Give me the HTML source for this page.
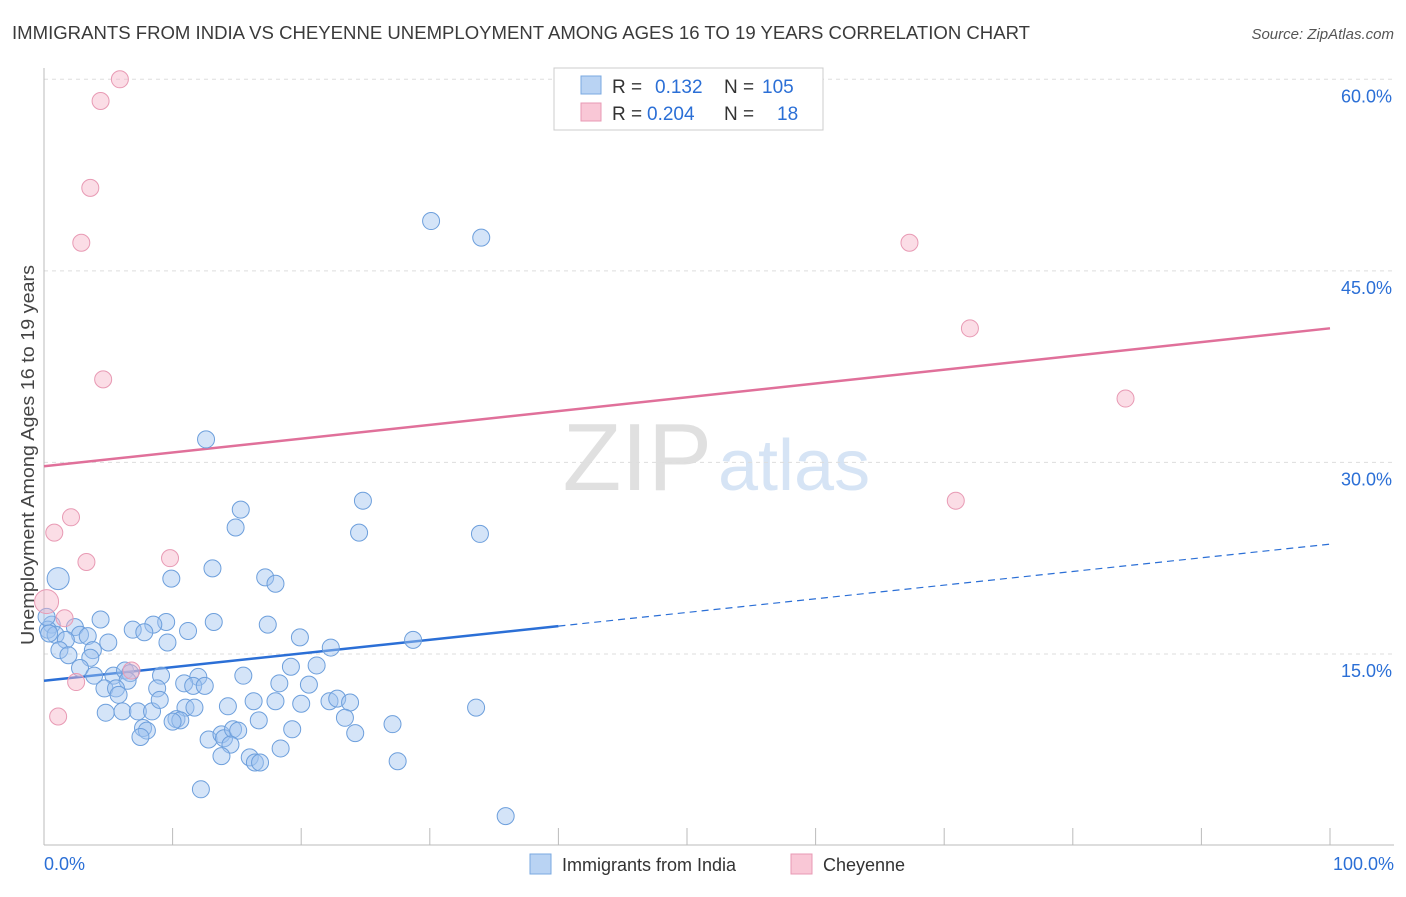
<!DOCTYPE html>
<html><head><meta charset="utf-8"><style>
body{margin:0;background:#fff;font-family:"Liberation Sans",sans-serif;}
svg text{font-family:"Liberation Sans",sans-serif;}
</style></head><body>
<svg id="chart" width="1406" height="892" xmlns="http://www.w3.org/2000/svg">
<text x="12" y="39" font-size="18" fill="#3a3a3a" textLength="1018" lengthAdjust="spacingAndGlyphs">IMMIGRANTS FROM INDIA VS CHEYENNE UNEMPLOYMENT AMONG AGES 16 TO 19 YEARS CORRELATION CHART</text>
<text x="1394" y="39" font-size="15" fill="#555" text-anchor="end" font-style="italic">Source: ZipAtlas.com</text>
<text x="712" y="490" font-size="96" text-anchor="end" fill="#e0e0e0" font-family="Liberation Serif">ZIP</text>
<text x="718" y="490" font-size="72" fill="#d6e4f5">atlas</text>
<text transform="translate(34,455) rotate(-90)" text-anchor="middle" font-size="18" fill="#444" textLength="380" lengthAdjust="spacingAndGlyphs">Unemployment Among Ages 16 to 19 years</text>
<g id="grid"></g><g id="ticks"></g><g id="lines"></g><g id="pts"></g>
<g>
<rect x="554" y="68" width="269" height="62" fill="#fff" stroke="#ccc"/>
<rect x="581" y="76" width="20" height="18" fill="#b9d3f3" stroke="#7aa8e0"/>
<rect x="581" y="103" width="20" height="18" fill="#f9c7d6" stroke="#e89ab4"/>
<text x="612" y="93" font-size="19" fill="#333">R =</text><text x="655" y="93" font-size="19" fill="#2b6fd6">0.132</text>
<text x="724" y="93" font-size="19" fill="#333">N =</text><text x="762" y="93" font-size="19" fill="#2b6fd6">105</text>
<text x="612" y="120" font-size="19" fill="#333">R =</text><text x="647" y="120" font-size="19" fill="#2b6fd6">0.204</text>
<text x="724" y="120" font-size="19" fill="#333">N =</text><text x="777" y="120" font-size="19" fill="#2b6fd6">18</text>
</g>
<g>
<rect x="530" y="854" width="21" height="20" fill="#b9d3f3" stroke="#7aa8e0"/>
<text x="562" y="871" font-size="18" fill="#333">Immigrants from India</text>
<rect x="791" y="854" width="21" height="20" fill="#f9c7d6" stroke="#e89ab4"/>
<text x="823" y="871" font-size="18" fill="#333">Cheyenne</text>
</g>
</svg>
<script>
const yTicks=[15,30,45,60];
const xTickLabels=["0.0%","100.0%"];
const indiaX=[30.1,34.0,12.6,15.3,24.8,14.9,24.5,33.9,1.1,9.9,13.1,17.2,18.0,4.4,9.5,8.5,13.2,17.4,6.9,7.8,11.2,19.9,28.7,22.3,9.6,5.0,0.6,0.3,0.9,2.4,2.8,3.4,1.7,1.2,1.9,3.8,3.6,2.8,3.9,5.4,6.3,6.7,9.1,12.0,15.5,19.2,21.2,6.5,4.7,5.6,5.8,8.8,10.9,11.6,12.5,18.3,20.6,4.8,6.1,7.3,8.4,9.0,11.0,11.7,14.3,16.3,18.0,20.0,22.2,22.8,23.8,10.3,10.6,10.0,16.7,23.4,27.1,33.6,7.7,8.0,7.5,12.8,13.8,14.0,14.7,15.1,14.5,19.3,24.2,18.4,13.8,16.0,16.4,16.8,27.5,12.2,35.9,0.2,0.4];
const indiaY=[48.9,47.6,31.8,26.3,27.0,24.9,24.5,24.4,20.9,20.9,21.7,21.0,20.5,17.7,17.5,17.3,17.5,17.3,16.9,16.7,16.8,16.3,16.1,15.5,15.9,15.9,17.3,16.9,16.5,17.1,16.5,16.4,16.1,15.3,14.9,15.3,14.7,13.9,13.3,13.3,13.7,13.5,13.3,13.2,13.3,14.0,14.1,12.9,12.3,12.3,11.8,12.3,12.7,12.5,12.5,12.7,12.6,10.4,10.5,10.5,10.5,11.4,10.8,10.8,10.9,11.3,11.3,11.1,11.3,11.5,11.2,9.9,9.8,9.7,9.8,10.0,9.5,10.8,9.2,9.0,8.5,8.3,8.7,8.4,9.1,9.0,7.9,9.1,8.8,7.6,7.0,6.9,6.5,6.5,6.6,4.4,2.3,17.9,16.6];
const cheyX=[5.9,4.4,3.6,2.9,67.3,72.0,4.6,84.1,70.9,2.1,0.8,9.8,3.3,0.2,1.6,6.8,2.5,1.1];
const cheyY=[60.0,58.3,51.5,47.2,47.2,40.5,36.5,35.0,27.0,25.7,24.5,22.5,22.2,19.1,17.8,13.7,12.8,10.1];
const indiaTrend=[12.9,23.6];
const cheyTrend=[29.7,40.5];
const X=v=>44+v*12.86, Y=v=>845.5-v*12.77;
const NS="http://www.w3.org/2000/svg";
function mk(t,a,p){const e=document.createElementNS(NS,t);for(const k in a)e.setAttribute(k,a[k]);p.appendChild(e);return e;}
const grid=document.getElementById('grid'),ticks=document.getElementById('ticks'),lines=document.getElementById('lines'),pts=document.getElementById('pts');
yTicks.forEach(v=>{
 const l=mk('line',{x1:44,x2:1394,y1:Y(v),y2:Y(v),stroke:'#ddd','stroke-dasharray':'4,4'},grid);
 
 
 const t=mk('text',{x:1392,y:Y(v)+23,'text-anchor':'end','font-size':18,fill:'#2b6fd6'},ticks);
 t.textContent=v.toFixed(1)+'%';
 
 
});
const a1=mk('line',{x1:44,x2:44,y1:68,y2:845,stroke:'#bbb'},grid);


const a2=mk('line',{x1:44,x2:1394,y1:845,y2:845,stroke:'#bbb'},grid);


for(let i=0;i<=10;i++){const tk=mk('line',{x1:X(i*10),x2:X(i*10),y1:828,y2:845,stroke:'#bbb'},grid);
 
 }
[[0,'start',44],[1,'end',1394]].forEach(([i,anc,x])=>{const t=mk('text',{x:x,y:870,'text-anchor':anc,'font-size':18,fill:'#2b6fd6'},ticks);t.textContent=xTickLabels[i];
 
 });
indiaX.forEach((x,i)=>{const c=mk('circle',{cx:X(x),cy:Y(indiaY[i]),r:(i==8?11:8.5),fill:'rgba(160,196,240,0.45)',stroke:'#6d9fdc','stroke-width':1},pts);
 
 });
cheyX.forEach((x,i)=>{const c=mk('circle',{cx:X(x),cy:Y(cheyY[i]),r:(i==13?12:8.5),fill:'rgba(246,180,200,0.45)',stroke:'#e89ab4','stroke-width':1},pts);
 
 });
const it=v=>indiaTrend[0]+(indiaTrend[1]-indiaTrend[0])*v/100;
const l1=mk('line',{x1:X(0),y1:Y(it(0)),x2:X(40),y2:Y(it(40)),stroke:'#2b6fd6','stroke-width':2.5},lines);


const l2=mk('line',{x1:X(40),y1:Y(it(40)),x2:X(100),y2:Y(it(100)),stroke:'#2b6fd6','stroke-width':1.2,'stroke-dasharray':'7,5'},lines);


const l3=mk('line',{x1:X(0),y1:Y(cheyTrend[0]),x2:X(100),y2:Y(cheyTrend[1]),stroke:'#e0709a','stroke-width':2.5},lines);


</script>
</body></html>
